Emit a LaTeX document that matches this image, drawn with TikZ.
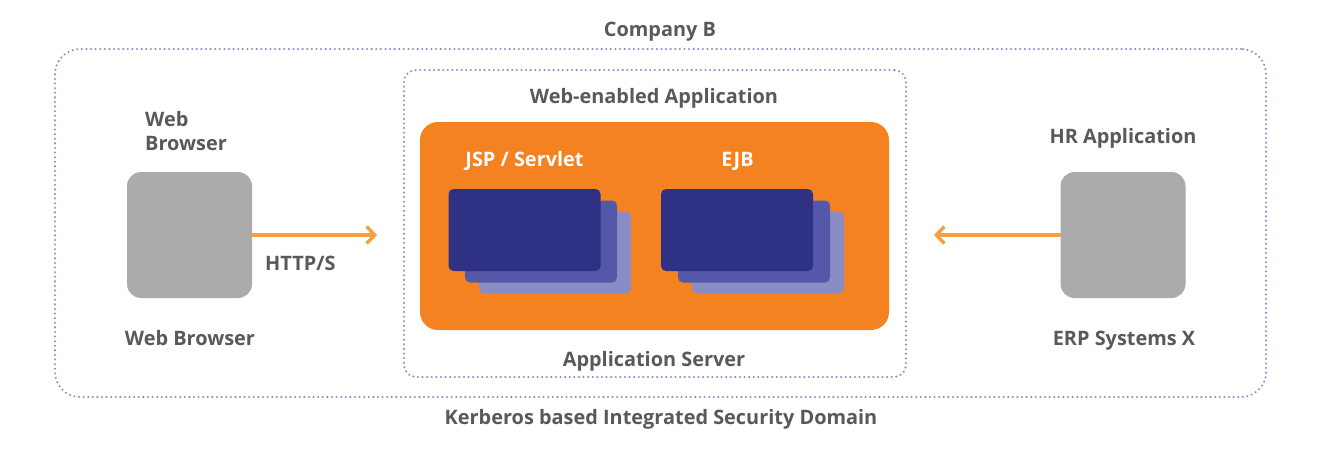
\documentclass[tikz,border=0pt]{standalone}
\usepackage{fontspec}
\setmainfont{Open Sans}
\usetikzlibrary{arrows.meta}
\definecolor{txt}{HTML}{58595B}
\definecolor{dotc}{HTML}{8A8CC5}
\definecolor{orng}{HTML}{F58220}
\definecolor{arr}{HTML}{F7A041}
\definecolor{grayb}{HTML}{ABABAB}
\definecolor{navy}{HTML}{2E3184}
\definecolor{midb}{HTML}{5558A8}
\definecolor{lightb}{HTML}{8A8CC5}
\tikzset{
  lbl/.style={font=\fontsize{19.9}{23}\selectfont\bfseries, text=txt, inner sep=0pt, anchor=base},
  wlbl/.style={font=\fontsize{19.9}{23}\selectfont\bfseries, text=white, inner sep=0pt, anchor=base},
  dotbox/.style={draw=dotc, line width=2.3pt, dash pattern=on 0pt off 4.6pt, line cap=round, inner sep=0pt},
  card/.style={rectangle, rounded corners=5pt, minimum width=152pt, minimum height=82pt, inner sep=0pt},
  sysbox/.style={rectangle, fill=grayb, rounded corners=14pt, minimum width=125pt, minimum height=126pt, inner sep=0pt},
  flow/.style={draw=arr, line width=3.8pt, line cap=round, -{Straight Barb[length=8pt,width=17pt,line width=3.4pt]}}
}
\begin{document}
\begin{tikzpicture}[x=1pt,y=-1pt]
\useasboundingbox (0,0) rectangle (1321,448);
% containers
\node[dotbox, rectangle, rounded corners=25pt, minimum width=1211pt, minimum height=348pt] (outer) at (660.5,223) {};
\node[dotbox, rectangle, rounded corners=12pt, minimum width=502pt, minimum height=307pt] (inner) at (655,223.5) {};
\node[rectangle, fill=orng, rounded corners=18pt, minimum width=469pt, minimum height=208pt, inner sep=0pt] (server) at (654.5,226) {};
% JSP stack
\node[card, fill=lightb] (jsp3) at (555,252.5) {};
\node[card, fill=midb] (jsp2) at (541,241.5) {};
\node[card, fill=navy] (jsp1) at (524.5,230) {};
% EJB stack
\node[card, fill=lightb] (ejb3) at (768,252.5) {};
\node[card, fill=midb] (ejb2) at (754,241.5) {};
\node[card, fill=navy] (ejb1) at (737,230) {};
% systems
\node[sysbox] (web) at (189.5,235) {};
\node[sysbox] (hr) at (1123,235) {};
% arrows
\coordinate (inL) at (377,235);
\coordinate (inR) at (934,235);
\draw[flow] (web.east) -- (inL);
\draw[flow] (hr.west) -- (inR);
% labels
\node[lbl] (tcomp) at (660,36) {Company B};
\node[lbl] (tkerb) at (661,424) {Kerberos based Integrated Security Domain};
\node[lbl] (twea) at (654,103) {Web-enabled Application};
\node[lbl] (tas) at (654,366) {Application Server};
\node[wlbl] (tjsp) at (524.5,166) {JSP / Servlet};
\node[wlbl] (tejb) at (737.5,166) {EJB};
\node[lbl, anchor=base west] (tweb1) at (145,126) {Web};
\node[lbl, anchor=base west] (tweb2) at (145,150) {Browser};
\node[lbl] (twebb) at (190,345) {Web Browser};
\node[lbl, anchor=base west] (thttp) at (265,270) {HTTP/S};
\node[lbl] (thr) at (1123,143) {HR Application};
\node[lbl] (terp) at (1124,345) {ERP Systems X};
\end{tikzpicture}
\end{document}
